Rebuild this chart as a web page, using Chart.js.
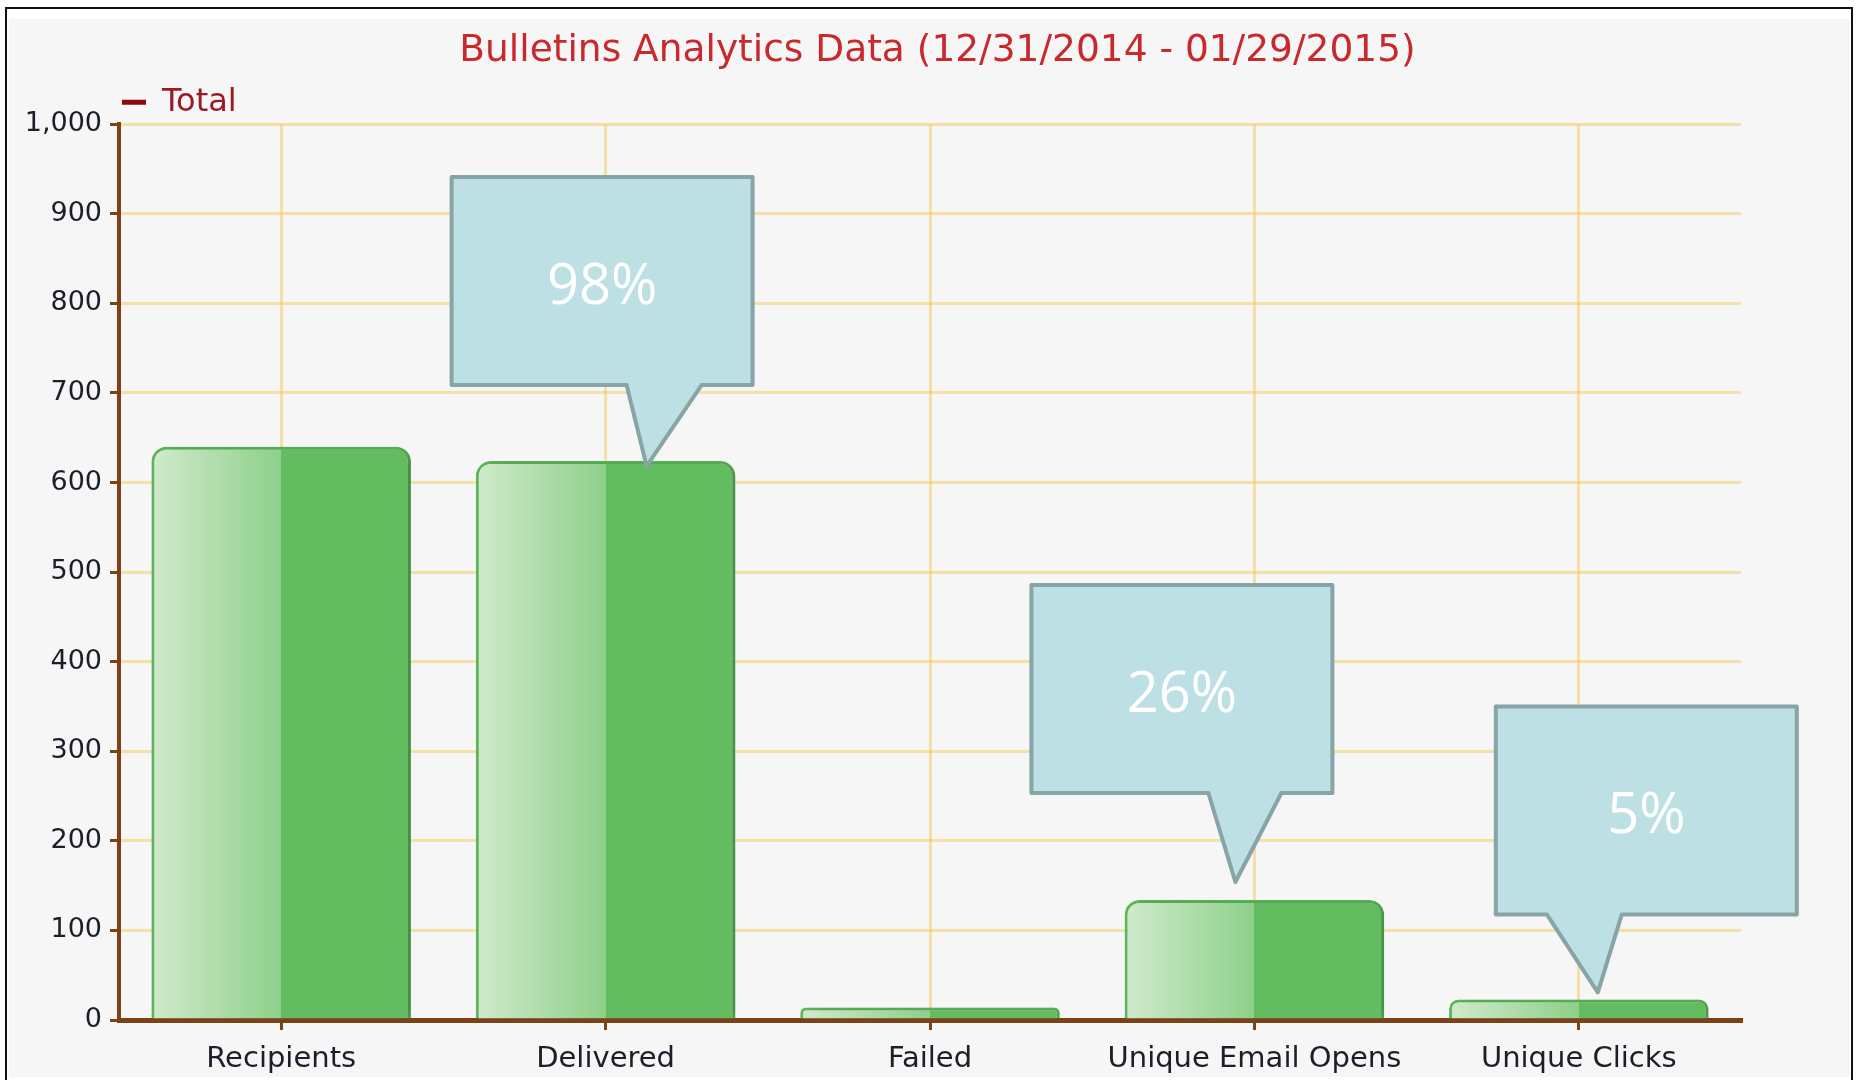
<!DOCTYPE html>
<html>
<head>
<meta charset="utf-8">
<script src="https://cdn.jsdelivr.net/npm/chart.js@4.4.1/dist/chart.umd.min.js"></script>
<style>
  body { margin: 0; background: #fff; width: 1856px; height: 1080px; overflow: hidden; }
  #frame { position: absolute; left: 5px; top: 7px; width: 1848px; height: 1100px; border: 2px solid #111; box-sizing: border-box; background: #fff; }
  #panel { position: absolute; left: 2px; top: 10px; right: 1px; height: 1058px; background: #f6f6f6; }
  #chart { position: absolute; left: 0; top: 0; }
</style>
</head>
<body>
<div id="frame"><div id="panel"></div></div>
<canvas id="chart" width="1856" height="1080"></canvas>
<script>
// chart data
const categories = ["Recipients", "Delivered", "Failed", "Unique Email Opens", "Unique Clicks"];
const totals = [640, 624, 14, 134, 23];
const yTickValues = [0, 100, 200, 300, 400, 500, 600, 700, 800, 900, 1000];
const calloutLabels = [null, "98%", null, "26%", "5%"];

const BROWN = "#7a4216";
const GREEN = "#63bd60";
const GRID = "rgba(240,200,90,0.5)";

// callout box shapes, relative to the tip (px)
const calloutShapes = {
  1: { dx: 41, dy: 5, left: -195, bottom: -81, base: [-20, 55] },
  3: { dx: -19, dy: -18, left: -204, bottom: -89, base: [-27, 46] },
  4: { dx: 19, dy: -7, left: -102, bottom: -78, base: [-51, 24] },
};
const BOX_W = 301, BOX_H = 208;

function barFill(context) {
  const chart = context.chart;
  if (!chart.chartArea) return GREEN;
  const x = chart.scales.x;
  const c = x.getPixelForValue(context.dataIndex);
  const w = (x.width / categories.length) * 0.8;
  const g = chart.ctx.createLinearGradient(c - w / 2, 0, c + w / 2, 0);
  g.addColorStop(0, "#d0eacc");
  g.addColorStop(0.5, "#8ed08a");
  g.addColorStop(0.5, GREEN);
  g.addColorStop(1, GREEN);
  return g;
}

// move the legend and title to where the original has them
const placeHeader = {
  id: "placeHeader",
  afterLayout(chart) {
    const lg = chart.legend;
    lg.left += 102; lg.right += 102;
    lg.top += 4; lg.bottom += 4;
    const tb = chart.titleBlock;
    tb.left += 62; tb.right += 62;
  },
};

// soft shadow behind the bars
const barShadow = {
  id: "barShadow",
  beforeDatasetsDraw(chart) {
    const c = chart.ctx;
    c.save();
    c.shadowColor = "rgba(0,0,0,0.28)";
    c.shadowBlur = 12;
    c.shadowOffsetX = 6;
    c.shadowOffsetY = 2;
  },
  afterDatasetsDraw(chart) {
    chart.ctx.restore();
  },
};

// percentage callouts pointing at the bars
const callouts = {
  id: "callouts",
  afterDraw(chart) {
    const c = chart.ctx;
    const xs = chart.scales.x, ys = chart.scales.y;
    calloutLabels.forEach((label, i) => {
      if (!label) return;
      const s = calloutShapes[i];
      const tx = xs.getPixelForValue(i) + s.dx;
      const ty = ys.getPixelForValue(totals[i]) + s.dy;
      const L = tx + s.left, R = L + BOX_W;
      const B = ty + s.bottom, T = B - BOX_H;
      c.save();
      c.beginPath();
      c.moveTo(L, T);
      c.lineTo(R, T);
      c.lineTo(R, B);
      c.lineTo(tx + s.base[1], B);
      c.lineTo(tx, ty);
      c.lineTo(tx + s.base[0], B);
      c.lineTo(L, B);
      c.closePath();
      c.fillStyle = "#bce0e3";
      c.fill();
      c.lineWidth = 4;
      c.lineJoin = "round";
      c.strokeStyle = "#88a4a6";
      c.stroke();
      c.fillStyle = "#ffffff";
      c.font = "56px 'Open Sans'";
      c.textAlign = "center";
      c.textBaseline = "alphabetic";
      c.fillText(label, (L + R) / 2, (T + B) / 2 + 23);
      c.restore();
    });
  },
};

const ctx = document.getElementById("chart").getContext("2d");

new Chart(ctx, {
  type: "bar",
  data: {
    labels: categories,
    datasets: [
      {
        label: "Total",
        data: totals,
        backgroundColor: barFill,
        borderColor: "#5cba59",
        borderWidth: 3,
        borderSkipped: "bottom",
        borderRadius: { topLeft: 15, topRight: 15 },
        barPercentage: 1,
        categoryPercentage: 0.8,
      },
    ],
  },
  options: {
    responsive: false,
    animation: false,
    devicePixelRatio: 1,
    layout: { padding: { left: 10, right: 115, top: 0, bottom: 0 } },
    plugins: {
      tooltip: { enabled: false },
      title: {
        display: true,
        text: "Bulletins Analytics Data (12/31/2014 - 01/29/2015)",
        color: "#c9282d",
        font: { family: "DejaVu Sans", size: 37.5, weight: "normal", lineHeight: 1.1 },
        padding: { top: 31, bottom: 0 },
      },
      legend: {
        display: true,
        align: "start",
        labels: {
          usePointStyle: true,
          pointStyleWidth: 24,
          padding: 10,
          color: "#9a1b26",
          font: { family: "DejaVu Sans", size: 32 },
          generateLabels: () => [
            {
              text: "Total",
              fillStyle: "#8b0a0a",
              strokeStyle: "#8b0a0a",
              lineWidth: 5,
              pointStyle: "line",
              fontColor: "#9a1b26",
              datasetIndex: 0,
            },
          ],
        },
      },
    },
    scales: {
      x: {
        z: 1,
        afterFit: (s) => { s.height = 60; },
        grid: {
          offset: false,
          color: GRID,
          lineWidth: 3,
          tickLength: 10,
          tickColor: BROWN,
          tickWidth: 3,
        },
        border: { color: BROWN, width: 5 },
        ticks: {
          color: "#1e1e2a",
          padding: 12,
          font: { family: "DejaVu Sans", size: 29 },
          maxRotation: 0,
          autoSkip: false,
        },
      },
      y: {
        z: 1,
        min: 0,
        max: 1000,
        afterFit: (s) => { s.width = 109; },
        afterBuildTicks: (s) => { s.ticks = yTickValues.map((v) => ({ value: v })); },
        grid: {
          color: GRID,
          lineWidth: 3,
          tickLength: 9,
          tickColor: BROWN,
          tickWidth: 3,
        },
        border: { color: BROWN, width: 4 },
        ticks: {
          color: "#1e1e2a",
          padding: 8,
          font: { family: "DejaVu Sans", size: 27 },
          callback: (v) => v.toLocaleString("en-US"),
        },
      },
    },
  },
  plugins: [placeHeader, barShadow, callouts],
});
</script>
</body>
</html>
